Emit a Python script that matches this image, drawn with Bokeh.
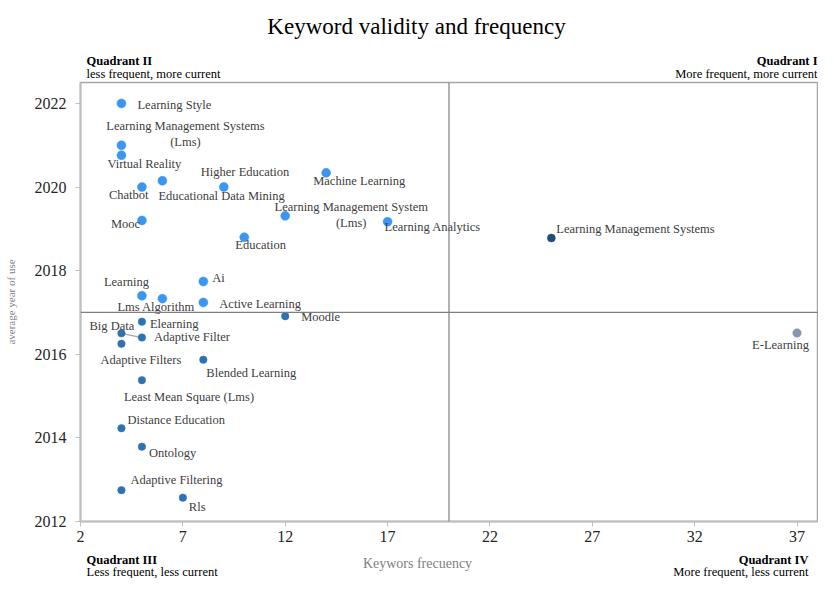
from bokeh.plotting import figure
from bokeh.layouts import column
from bokeh.models import ColumnDataSource, Span, Label, FixedTicker, Range1d
from bokeh.core.properties import value
from bokeh.embed import file_html
from bokeh.resources import INLINE

# ---- data ----
keywords = [
    "Learning Style", "Learning Management Systems\n(Lms)", "Virtual Reality", "Chatbot",
    "Educational Data Mining", "Higher Education", "Machine Learning", "Mooc",
    "Learning Management System\n(Lms)", "Learning Analytics", "Education", "Ai",
    "Learning", "Lms Algorithm", "Active Learning",
    "Moodle", "Elearning", "Big Data", "Adaptive Filter", "Adaptive Filters",
    "Blended Learning", "Least Mean Square (Lms)", "Distance Education", "Ontology",
    "Adaptive Filtering", "Rls",
    "Learning Management Systems", "E-Learning",
]
frequency = [4, 4, 4, 5, 6, 9, 14, 5, 12, 17, 10, 8, 5, 6, 8,
             12, 5, 4, 5, 4, 8, 5, 4, 5, 4, 7,
             25, 37]
avg_year = [2022.0, 2021.0, 2020.76, 2020.0, 2020.15, 2020.0, 2020.34, 2019.2,
            2019.31, 2019.17, 2018.8, 2017.74, 2017.4, 2017.33, 2017.24,
            2016.91, 2016.78, 2016.5, 2016.4, 2016.25, 2015.87, 2015.38, 2014.23,
            2013.79, 2012.75, 2012.57,
            2018.78, 2016.51]
group = ["q2"] * 15 + ["q3"] * 11 + ["q1", "q4"]

x_ticks = [2, 7, 12, 17, 22, 27, 32, 37]
y_ticks = [2012, 2014, 2016, 2018, 2020, 2022]
freq_split = 20
year_split = 2017

title_text = "Keyword validity and frequency"
x_title = "Keywors frecuency"
y_title = "average year of use"
quadrant_names = ["Quadrant I", "Quadrant II", "Quadrant III", "Quadrant IV"]
quadrant_notes = ["More frequent, more current", "less frequent, more current",
                  "Less frequent, less current", "More frequent, less current"]

# ---- styles ----
SERIF = "Liberation Serif"
W = 818
group_color = {"q2": "#3a96f0", "q3": "#2f72b3", "q1": "#1f4e79", "q4": "#8497b0"}
group_size = {"q2": 9, "q3": 7.5, "q1": 8, "q4": 8.5}
# label placement (screen px: dx, dy downward, alignment)
label_dx = [16, 64, -14, -33, -4, -23, -13, -31, 66, -3, -9, 9, -38, -45, 16,
            16, 8, -32, 12, -21, 3, -18, 6, 7, 9, 6, 5, 12]
label_dy = [2, -11, 9, 8, 15, -15, 8, 4, -1, 5, 8, -4, -14, 8, 2,
            1, 2, -7, -1, 16, 13, 17, -8, 6, -10, 9, -9, 12]
label_align = ["left", "center"] + ["left"] * 6 + ["center"] + ["left"] * 18 + ["right"]


def text_strip(height):
    f = figure(width=W, height=height, output_backend="svg", toolbar_location=None,
               x_axis_type=None, y_axis_type=None, x_range=Range1d(0, 1), y_range=Range1d(0, 1),
               min_border_left=0, min_border_right=0, min_border_top=0, min_border_bottom=0)
    f.outline_line_color = None
    f.background_fill_color = "white"
    f.border_fill_color = "white"
    return f


def lab(fig, x, y, text, align="left", size="12.5px", style="normal", color="#000000",
        baseline="alphabetic"):
    # x, y in px from the (column-aligned) frame's bottom-left corner
    fig.add_layout(Label(x=x, y=y, x_units="screen", y_units="screen", text=text,
                         text_align=align, text_baseline=baseline, text_font=SERIF,
                         text_font_size=size, text_font_style=style, text_color=color))


# ---- top strip: title + quadrant II / I notes ----
top = text_strip(80)
lab(top, 336, 54, title_text, align="center", size="23px")
lab(top, 6, 20, quadrant_names[1], style="bold")
lab(top, 6, 7, quadrant_notes[1])
lab(top, 737, 20, quadrant_names[0], align="right", style="bold")
lab(top, 737, 7, quadrant_notes[0], align="right")

# ---- main chart ----
src = ColumnDataSource(dict(
    x=frequency, y=avg_year, kw=keywords,
    color=[group_color[g] for g in group],
    size=[group_size[g] for g in group],
))

p = figure(width=W, height=469, output_backend="svg", toolbar_location=None,
           x_range=Range1d(2, 38), y_range=Range1d(2012, 2022.5),
           min_border_left=80, min_border_right=1, min_border_top=2, min_border_bottom=28)
p.background_fill_color = "white"
p.border_fill_color = "white"
p.outline_line_color = "#a6a6a6"
p.outline_line_width = 1.5
p.xgrid.visible = False
p.ygrid.visible = False

for ax, ticks in ((p.xaxis, x_ticks), (p.yaxis, y_ticks)):
    ax.ticker = FixedTicker(ticks=ticks)
    ax.minor_tick_line_color = None
    ax.major_tick_in = 0
    ax.major_tick_out = 5
    ax.major_tick_line_color = "#bfbfbf"
    ax.axis_line_color = "#bfbfbf"
    ax.axis_line_width = 2
    ax.major_label_text_font = SERIF
    ax.major_label_text_font_size = "16px"
    ax.major_label_text_color = "#262626"
p.xaxis.major_label_standoff = 4
p.yaxis.major_label_standoff = 9
p.yaxis.axis_label = y_title
p.yaxis.axis_label_text_font = SERIF
p.yaxis.axis_label_text_font_size = "11px"
p.yaxis.axis_label_text_font_style = "normal"
p.yaxis.axis_label_text_color = "#7f7f7f"
p.yaxis.axis_label_standoff = 15

# quadrant dividers
p.add_layout(Span(location=freq_split, dimension="height", line_color="#7f7f7f", line_width=1.2))
p.add_layout(Span(location=year_split, dimension="width", line_color="#7f7f7f", line_width=1.2))

# leader line from Big Data to Adaptive Filter
i_bd, i_af = keywords.index("Big Data"), keywords.index("Adaptive Filter")
p.segment(x0=[frequency[i_bd]], y0=[avg_year[i_bd]], x1=[frequency[i_af]], y1=[avg_year[i_af]],
          line_color="#a6a6a6", line_width=1.2)

p.scatter("x", "y", source=src, size="size", fill_color="color", line_color="color", line_width=0.5)

for align in ("left", "center", "right"):
    idx = [i for i, a in enumerate(label_align) if a == align]
    s = ColumnDataSource(dict(
        x=[frequency[i] for i in idx], y=[avg_year[i] for i in idx],
        t=[keywords[i] for i in idx],
        dx=[label_dx[i] for i in idx], dy=[label_dy[i] for i in idx],
    ))
    p.text("x", "y", text="t", source=s, x_offset="dx", y_offset="dy",
           text_align=align, text_baseline="middle", text_font=value(SERIF),
           text_font_size="12.5px", text_color="#404040", text_line_height=1.12)

# ---- bottom strip: quadrant III / IV notes + x title ----
bottom = text_strip(29)
lab(bottom, 6, 19, quadrant_names[2], style="bold")
lab(bottom, 6, 7, quadrant_notes[2])
lab(bottom, 728, 19, quadrant_names[3], align="right", style="bold")
lab(bottom, 728, 7, quadrant_notes[3], align="right")
lab(bottom, 337, 15, x_title, align="center", size="14px", color="#7f7f7f", baseline="middle")

layout = column(top, p, bottom, spacing=0)
open("out.html", "w").write(file_html(layout, INLINE))
